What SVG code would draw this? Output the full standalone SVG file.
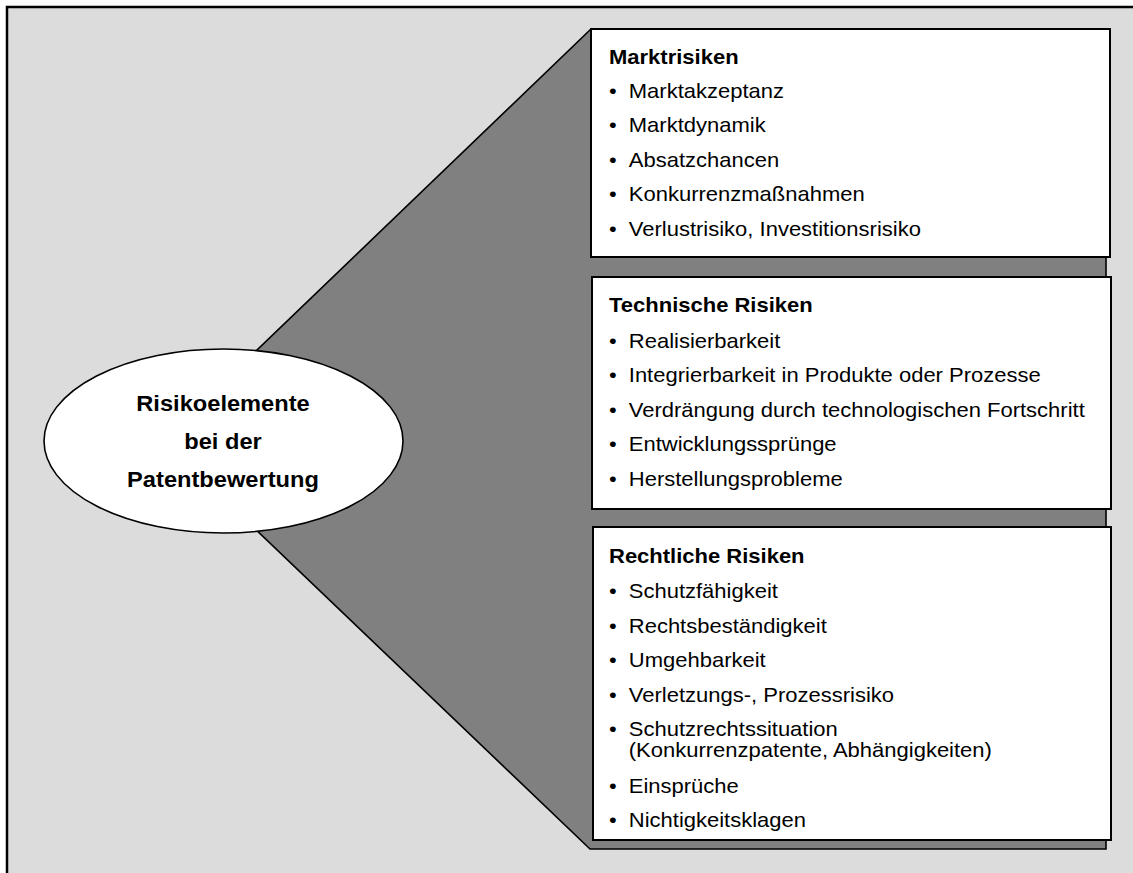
<svg xmlns="http://www.w3.org/2000/svg" width="1133" height="873" viewBox="0 0 1133 873">
<style>
.frame{fill:#dcdcdc;stroke:#000;stroke-width:2.5}
.funnel{fill:#808080;stroke:#000;stroke-width:1.6;stroke-linejoin:miter}
.box{fill:#fff;stroke:#000;stroke-width:2}
.ell{fill:#fff;stroke:#000;stroke-width:1.6}
text{font-family:"Liberation Sans",Arial,sans-serif;fill:#000}
.t{font-size:20px;font-weight:bold}
.i{font-size:20px}
.c{font-size:21.5px;font-weight:bold;text-anchor:middle}
</style>
<rect class="frame" x="7" y="7" width="1150" height="890"/>
<g id="connectors">
<polygon class="funnel" points="591,29 1106,29 1106,849 590,849 230,505 230,376"/>
</g>
<g id="center">
<ellipse class="ell" cx="223.5" cy="441" rx="179.5" ry="92"/>
<g transform="translate(223,0) scale(1.1,1)">
<text class="c" x="0" y="411">Risikoelemente</text>
<text class="c" x="0" y="449">bei der</text>
<text class="c" x="0" y="487">Patentbewertung</text>
</g>
</g>
<g id="marktrisiken">
<rect class="box" x="591" y="29" width="519" height="228"/>
<g transform="translate(609,0) scale(1.1,1)">
<text class="t" x="0" y="64">Marktrisiken</text>
<text class="i" x="0" y="98">•</text><text class="i" x="18" y="98">Marktakzeptanz</text>
<text class="i" x="0" y="132">•</text><text class="i" x="18" y="132">Marktdynamik</text>
<text class="i" x="0" y="167">•</text><text class="i" x="18" y="167">Absatzchancen</text>
<text class="i" x="0" y="201">•</text><text class="i" x="18" y="201">Konkurrenzmaßnahmen</text>
<text class="i" x="0" y="236">•</text><text class="i" x="18" y="236">Verlustrisiko, Investitionsrisiko</text>
</g>
</g>
<g id="technische">
<rect class="box" x="592" y="277" width="519" height="232"/>
<g transform="translate(609,0) scale(1.1,1)">
<text class="t" x="0" y="312">Technische Risiken</text>
<text class="i" x="0" y="348">•</text><text class="i" x="18" y="348">Realisierbarkeit</text>
<text class="i" x="0" y="382">•</text><text class="i" x="18" y="382">Integrierbarkeit in Produkte oder Prozesse</text>
<text class="i" x="0" y="417">•</text><text class="i" x="18" y="417">Verdrängung durch technologischen Fortschritt</text>
<text class="i" x="0" y="451">•</text><text class="i" x="18" y="451">Entwicklungssprünge</text>
<text class="i" x="0" y="486">•</text><text class="i" x="18" y="486">Herstellungsprobleme</text>
</g>
</g>
<g id="rechtliche">
<rect class="box" x="593" y="527" width="518" height="313"/>
<g transform="translate(609,0) scale(1.1,1)">
<text class="t" x="0" y="563">Rechtliche Risiken</text>
<text class="i" x="0" y="598">•</text><text class="i" x="18" y="598">Schutzfähigkeit</text>
<text class="i" x="0" y="633">•</text><text class="i" x="18" y="633">Rechtsbeständigkeit</text>
<text class="i" x="0" y="667">•</text><text class="i" x="18" y="667">Umgehbarkeit</text>
<text class="i" x="0" y="702">•</text><text class="i" x="18" y="702">Verletzungs-, Prozessrisiko</text>
<text class="i" x="0" y="736">•</text><text class="i" x="18" y="736">Schutzrechtssituation</text>
<text class="i" x="18" y="757">(Konkurrenzpatente, Abhängigkeiten)</text>
<text class="i" x="0" y="793">•</text><text class="i" x="18" y="793">Einsprüche</text>
<text class="i" x="0" y="827">•</text><text class="i" x="18" y="827">Nichtigkeitsklagen</text>
</g>
</g>
</svg>
